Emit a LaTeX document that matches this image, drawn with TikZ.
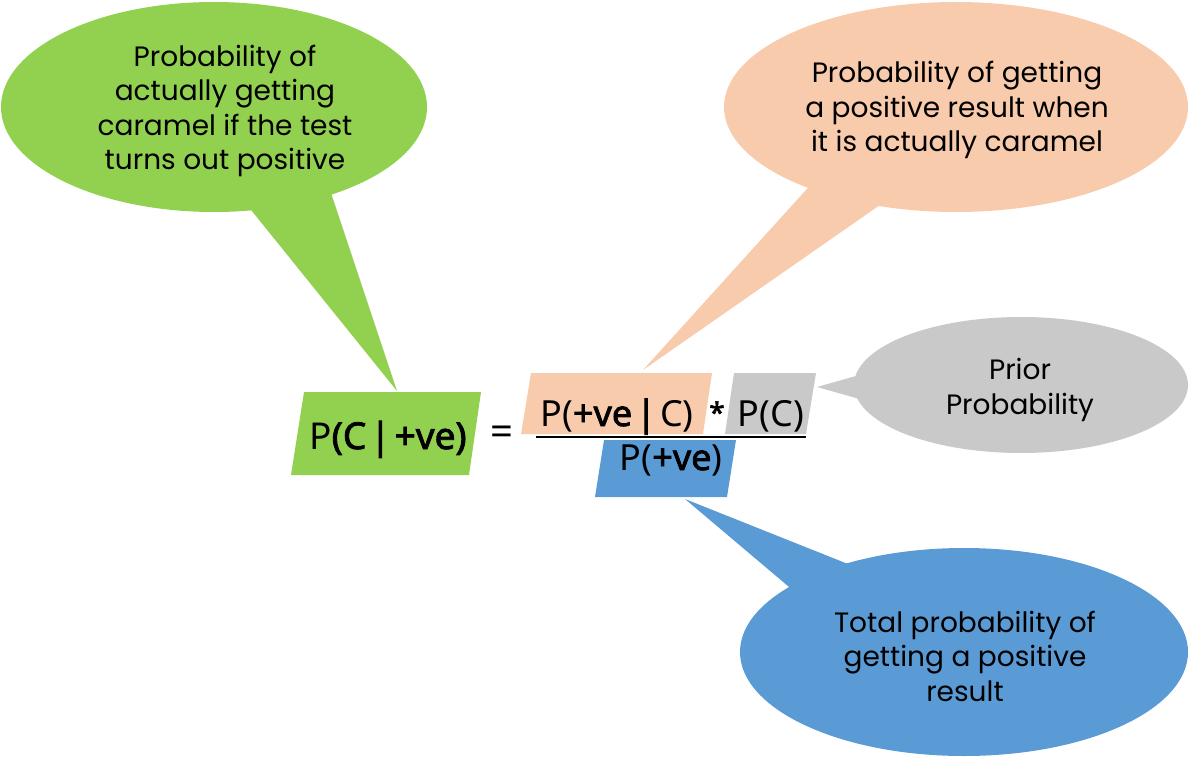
\documentclass[tikz,border=0pt]{standalone}
\usepackage{fontspec}
\setmainfont{Noto Sans}[BoldFont={Noto Sans}, BoldFeatures={FakeBold=2.2}]
\newfontfamily\comic{Poppins}
\definecolor{cgreen}{HTML}{92D050}
\definecolor{cpeach}{HTML}{F8CBAD}
\definecolor{cgray}{HTML}{C9C9C9}
\definecolor{cblue}{HTML}{5B9BD5}
\newcommand{\bsep}{\hspace{4pt}}
\tikzset{
  callout/.style={align=center, inner sep=0pt, font=\comic\fontsize{28}{34.5}\selectfont},
  formula/.style={anchor=base, inner sep=0pt, font=\fontsize{36}{40}\selectfont},
}
\begin{document}
\begin{tikzpicture}[x=1pt,y=-1pt]
\useasboundingbox (0,0) rectangle (1190,759);
% callout bubbles
\fill[cgreen] (214,107) ellipse [x radius=213, y radius=105];
\fill[cgreen] (243,200) -- (397,391) -- (330,190) -- cycle;
\fill[cpeach] (956,107) ellipse [x radius=232, y radius=105];
\fill[cpeach] (815,180) -- (643,370) -- (890,198) -- cycle;
\fill[cgray] (1021,385) ellipse [x radius=167, y radius=68];
\fill[cgray] (870,372) -- (817,387) -- (870,402) -- cycle;
\fill[cblue] (964,652) ellipse [x radius=224, y radius=104];
\fill[cblue] (858,568) -- (685,499) -- (795,592) -- cycle;
% parallelograms
\fill[cgreen] (304,392) -- (481,392) -- (469,475) -- (291,475) -- cycle;
\fill[cpeach] (531,373) -- (712,373) -- (703,434) -- (521,434) -- cycle;
\fill[cgray] (734,373) -- (816,373) -- (806,434) -- (725,434) -- cycle;
\fill[cblue] (604,440) -- (736,440) -- (727,497) -- (595,497) -- cycle;
% fraction bar
\coordinate (fl) at (536,437);
\coordinate (fr) at (806,437);
\draw[line width=2pt] (fl) -- (fr);
% formula text
\node[formula, font=\fontsize{37}{40}\selectfont] (lhs) at (388,449) {P\textbf{(C\bsep|\bsep+ve)}};
\node[anchor=center, inner sep=0pt, font=\fontsize{40}{40}\selectfont] (eq) at (502,436) {=};
\node[formula] (num1) at (617,426) {P(\textbf{+ve\bsep|\bsep}C)};
\node[anchor=center, inner sep=0pt, font=\bfseries\fontsize{28}{30}\selectfont] (star) at (717,412) {*};
\node[formula] (num2) at (771,426) {P(C)};
\node[formula] (den) at (671,470) {P(\textbf{+ve})};
% callout texts
\node[callout] (tgreen) at (225,111) {Probability of\\actually getting\\caramel if the test\\turns out positive};
\node[callout] (tpeach) at (957,110) {Probability of getting\\a positive result when\\it is actually caramel};
\node[callout] (tgray) at (1020,390) {Prior\\Probability};
\node[callout] (tblue) at (965,656) {Total probability of\\getting a positive\\result};
\end{tikzpicture}
\end{document}
